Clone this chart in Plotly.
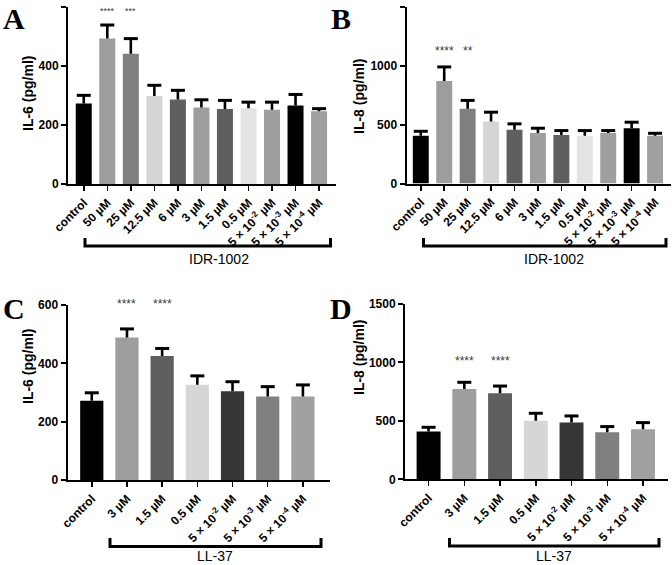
import plotly.graph_objects as go

W, H = 672, 565

# ---------------- data ----------------
idr_labels = ["control", "50 µM", "25 µM", "12.5 µM", "6 µM", "3 µM", "1.5 µM", "0.5 µM",
              "5 × 10<sup>-2</sup> µM", "5 × 10<sup>-3</sup> µM", "5 × 10<sup>-4</sup> µM"]
ll_labels = ["control", "3 µM", "1.5 µM", "0.5 µM",
             "5 × 10<sup>-2</sup> µM", "5 × 10<sup>-3</sup> µM", "5 × 10<sup>-4</sup> µM"]

a_mean = [272, 492, 441, 298, 286, 259, 254, 256, 251, 266, 246]
a_top = [300, 538, 492, 334, 317, 285, 283, 277, 277, 303, 255]

b_mean = [406, 869, 634, 526, 457, 429, 412, 406, 429, 469, 406]
b_top = [443, 989, 705, 605, 506, 469, 449, 449, 449, 520, 426]

c_mean = [272, 489, 425, 327, 304, 286, 286]
c_top = [299, 518, 451, 357, 337, 320, 326]

d_mean = [408, 773, 736, 502, 485, 402, 428]
d_top = [445, 830, 798, 565, 542, 451, 485]

idr_colors = ["#000000", "#9d9d9d", "#7f7f7f", "#d5d5d5", "#5f5f5f", "#9e9e9e",
              "#5f5f5f", "#e4e4e4", "#9e9e9e", "#000000", "#a0a0a0"]
ll_colors = ["#000000", "#9e9e9e", "#5f5f5f", "#d6d6d6", "#363636", "#808080", "#a0a0a0"]

a_stars = {"50 µM": "****", "25 µM": "***"}
b_stars = {"50 µM": "****", "25 µM": "**"}
c_stars = {"3 µM": "****", "1.5 µM": "****"}
d_stars = {"3 µM": "****", "1.5 µM": "****"}

# ---------------- helpers ----------------
def px(x):
    return x / W

def py(y):
    return 1 - y / H

SANS = "Liberation Sans, Arial, sans-serif"
SERIF = "Liberation Serif, Times New Roman, serif"

fig = go.Figure()

panels = [
    dict(ax="", labels=idr_labels, mean=a_mean, top=a_top, colors=idr_colors,
         xd=(68, 336), yd=(6.7, 184), xr=(-0.67, 10.72), yr=(0, 600), tv=[0, 200, 400, 600],
         bw=0.68, ytitle="IL-6 (pg/ml)", ytx=28, yty=94, letter="A", lx=14, ly=18,
         stars=a_stars, sy=11, ssize=9,
         br=(85, 330.5, 246, 238), grp="IDR-1002", gx=218.5, gy=259),
    dict(ax="2", labels=idr_labels, mean=b_mean, top=b_top, colors=idr_colors,
         xd=(406.5, 671), yd=(6.7, 183.5), xr=(-0.61, 10.68), yr=(0, 1500), tv=[0, 500, 1000, 1500],
         bw=0.68, ytitle="IL-8 (pg/ml)", ytx=359, yty=97, letter="B", lx=341, ly=18,
         stars=b_stars, sy=51, ssize=12,
         br=(423.5, 666, 246, 238), grp="IDR-1002", gx=554, gy=259),
    dict(ax="3", labels=ll_labels, mean=c_mean, top=c_top, colors=ll_colors,
         xd=(67.5, 330), yd=(305, 480), xr=(-0.69, 6.77), yr=(0, 600), tv=[0, 200, 400, 600],
         bw=0.66, ytitle="IL-6 (pg/ml)", ytx=28, yty=367, letter="C", lx=14, ly=308,
         stars=c_stars, sy=304, ssize=12,
         br=(110, 321, 546.5, 538), grp="LL-37", gx=215, gy=556),
    dict(ax="4", labels=ll_labels, mean=d_mean, top=d_top, colors=ll_colors,
         xd=(405, 668), yd=(304, 479.3), xr=(-0.66, 6.70), yr=(0, 1500), tv=[0, 500, 1000, 1500],
         bw=0.67, ytitle="IL-8 (pg/ml)", ytx=359, yty=358, letter="D", lx=341, ly=308,
         stars=d_stars, sy=361, ssize=12,
         br=(449.5, 659, 546, 538), grp="LL-37", gx=554, gy=556),
]

for p in panels:
    xa = "x" + p["ax"]
    ya = "y" + p["ax"]
    err_down = [t - m for t, m in zip(p["top"], p["mean"])]
    fig.add_trace(go.Bar(
        x=p["labels"], y=p["mean"], xaxis=xa, yaxis=ya,
        marker=dict(color=p["colors"], line=dict(width=0)),
        width=p["bw"], showlegend=False, hoverinfo="skip",
    ))
    # error bar: stem from mean up to top, cap only at top
    fig.add_trace(go.Scatter(
        x=p["labels"], y=p["top"], xaxis=xa, yaxis=ya, mode="markers",
        marker=dict(symbol="line-ew-open", size=10, color="#000000",
                    line=dict(color="#000000", width=3)),
        error_y=dict(type="data", symmetric=False, array=[0] * len(err_down),
                     arrayminus=err_down, color="#000000", thickness=2.6, width=0),
        showlegend=False, hoverinfo="skip", cliponaxis=False,
    ))
    xkey = "xaxis" + p["ax"]
    ykey = "yaxis" + p["ax"]
    fig.update_layout(**{
        xkey: dict(domain=[px(p["xd"][0]), px(p["xd"][1])], anchor=ya,
                   type="category", range=list(p["xr"]), automargin=False,
                   showline=True, linecolor="#000000", linewidth=2,
                   ticks="outside", ticklen=5, tickwidth=1.5, tickcolor="#000000",
                   tickangle=-45, showgrid=False, zeroline=False,
                   tickfont=dict(family=SANS, size=12, color="#000000", weight="bold"),
                   fixedrange=True),
        ykey: dict(domain=[py(p["yd"][1]), py(p["yd"][0])], anchor=xa,
                   range=list(p["yr"]), tickvals=p["tv"], automargin=False,
                   showline=True, linecolor="#000000", linewidth=2,
                   ticks="outside", ticklen=5, tickwidth=2, tickcolor="#000000",
                   showgrid=False, zeroline=False,
                   tickfont=dict(family=SANS, size=12, color="#000000", weight="bold"),
                   fixedrange=True),
    })
    fig.add_annotation(x=px(p["ytx"]), y=py(p["yty"]), xref="paper", yref="paper",
                       text=p["ytitle"], textangle=-90, showarrow=False,
                       font=dict(family=SANS, size=14, color="#000000", weight="bold"),
                       xanchor="center", yanchor="middle")
    fig.add_annotation(x=px(p["lx"]), y=py(p["ly"]), xref="paper", yref="paper",
                       text=p["letter"], showarrow=False,
                       font=dict(family=SERIF, size=30, color="#000000", weight="bold"),
                       xanchor="center", yanchor="middle")
    for lab, s in p["stars"].items():
        fig.add_annotation(x=lab, y=py(p["sy"]), xref=xa, yref="paper",
                           text=s, showarrow=False,
                           font=dict(family=SANS, size=p["ssize"], color="#3a3a3a"),
                           xanchor="center", yanchor="middle")
    x0, x1, yb, yt = p["br"]
    fig.add_shape(type="path",
                  path=f"M {px(x0)} {py(yt)} L {px(x0)} {py(yb)} L {px(x1)} {py(yb)} L {px(x1)} {py(yt)}",
                  xref="paper", yref="paper", line=dict(color="#000000", width=3))
    fig.add_annotation(x=px(p["gx"]), y=py(p["gy"]), xref="paper", yref="paper",
                       text=p["grp"], showarrow=False,
                       font=dict(family=SANS, size=14, color="#000000"),
                       xanchor="center", yanchor="middle")

fig.update_layout(width=W, height=H, margin=dict(l=0, r=0, t=0, b=0, autoexpand=False),
                  paper_bgcolor="#ffffff", plot_bgcolor="#ffffff")

fig.write_html(
    "out.html",
    config={"displayModeBar": False, "staticPlot": True},
    post_script="document.body.style.margin='0px';document.body.style.padding='0px';"
                "document.body.style.overflow='hidden';",
)
